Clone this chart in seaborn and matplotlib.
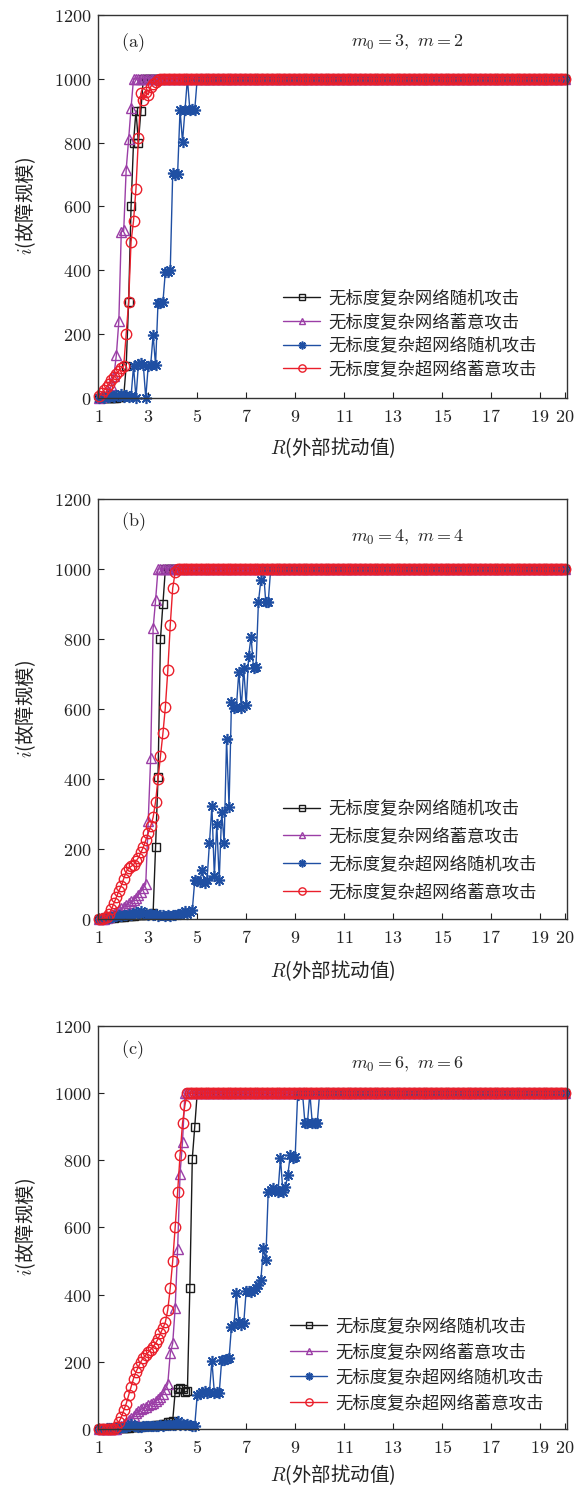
import numpy as np
import matplotlib
matplotlib.use("Agg")
import matplotlib.pyplot as plt
from matplotlib.ticker import FixedLocator, FuncFormatter
import seaborn as sns

# External disturbance values R, sampled every 0.1 from 1 to 20
R = np.round(np.arange(1.0, 20.0001, 0.1), 1)
FULL = 1000  # network size: every node has failed

SERIES_LABELS = [
    "无标度复杂网络随机攻击",
    "无标度复杂网络蓄意攻击",
    "无标度复杂超网络随机攻击",
    "无标度复杂超网络蓄意攻击",
]

# ---- (a) m0 = 3, m = 2 : failure size before the curves saturate at 1000 ----
a_net_random = [0, 0, 0, 0, 0, 0, 0, 0, 2, 3,
                5, 100, 300, 600, 800, 900, 800, 900, 1000]
a_net_target = [0, 2, 5, 10, 20, 40, 70, 135, 240, 520,
                525, 715, 810, 910, 1000]
a_hyper_random = [0, 3, 0, 5, 2, 8, 3, 10, 5, 12,
                  3, 8, 2, 5, 100, 0, 105, 110, 103, 0,
                  100, 103, 197, 103, 297, 297, 300, 396, 396, 400,
                  704, 699, 702, 903, 803, 903, 1000, 903, 905, 903,
                  1000]
a_hyper_target = [5, 15, 25, 35, 45, 55, 65, 75, 85, 95,
                  100, 200, 300, 490, 555, 655, 815, 955, 935, 960,
                  950, 975, 985, 990, 995, 1000]

# ---- (b) m0 = 4, m = 4 ----
b_net_random = [0, 0, 1, 2, 3, 3, 4, 5, 5, 6,
                6, 7, 8, 8, 9, 10, 10, 11, 12, 12,
                13, 15, 17, 205, 405, 800, 900, 1000]
b_net_target = [0, 0, 0, 2, 5, 10, 15, 20, 25, 30,
                35, 40, 45, 50, 55, 60, 68, 78, 88, 100,
                280, 460, 830, 910, 1000]
b_hyper_random = [0, 2, 3, 5, 4, 6, 8, 7, 10, 9,
                  12, 10, 14, 12, 15, 20, 18, 22, 15, 18,
                  12, 15, 10, 13, 8, 10, 12, 9, 11, 8,
                  10, 12, 15, 13, 18, 22, 15, 20, 25, 110,
                  108, 105, 140, 102, 110, 216, 323, 123, 271, 111,
                  306, 218, 513, 321, 621, 602, 605, 707, 602, 716,
                  611, 751, 807, 716, 720, 905, 969, 1000, 905, 905,
                  1000]
b_hyper_target = [0, 0, 2, 5, 15, 28, 45, 62, 80, 95,
                  115, 135, 145, 150, 155, 165, 175, 190, 205, 225,
                  245, 265, 290, 335, 400, 465, 530, 605, 710, 840,
                  945, 990, 1000]

# ---- (c) m0 = 6, m = 6 ----
c_net_random = [0, 0, 0, 0, 0, 1, 1, 2, 2, 3,
                3, 4, 4, 5, 5, 6, 6, 7, 8, 8,
                9, 10, 10, 11, 12, 13, 14, 15, 20, 22,
                25, 110, 120, 122, 118, 110, 112, 420, 805, 900,
                1000]
c_net_target = [0, 0, 0, 0, 0, 0, 0, 0, 5, 10,
                15, 20, 27, 33, 40, 47, 53, 58, 62, 66,
                70, 74, 78, 83, 88, 95, 105, 118, 135, 225,
                255, 360, 535, 760, 855, 1000]
c_hyper_random = [0, 0, 1, 2, 2, 3, 3, 4, 4, 5,
                  5, 6, 8, 15, 10, 8, 6, 7, 8, 9,
                  8, 9, 10, 9, 10, 11, 10, 12, 11, 12,
                  12, 13, 25, 12, 14, 13, 15, 12, 10, 10,
                  100, 105, 110, 112, 108, 110, 203, 108, 110, 108,
                  205, 205, 207, 210, 305, 310, 404, 319, 310, 315,
                  412, 410, 409, 414, 420, 430, 443, 538, 503, 706,
                  710, 716, 712, 706, 806, 706, 720, 756, 815, 806,
                  810, 994, 1000, 1000, 910, 910, 1000, 910, 910, 910,
                  1000]
c_hyper_target = [0, 0, 0, 0, 0, 0, 0, 5, 20, 35,
                  55, 75, 100, 125, 150, 170, 185, 200, 212, 220,
                  228, 236, 245, 255, 268, 285, 300, 318, 355, 420,
                  500, 600, 705, 815, 910, 965, 1000]

PANELS = [
    dict(tag="(a)", params=r"$m_0=3,\ m=2$",
         series=[a_net_random, a_net_target, a_hyper_random, a_hyper_target]),
    dict(tag="(b)", params=r"$m_0=4,\ m=4$",
         series=[b_net_random, b_net_target, b_hyper_random, b_hyper_target]),
    dict(tag="(c)", params=r"$m_0=6,\ m=6$",
         series=[c_net_random, c_net_target, c_hyper_random, c_hyper_target]),
]

X_TICKS = [1, 3, 5, 7, 9, 11, 13, 15, 17, 19, 20]
Y_TICKS = [0, 200, 400, 600, 800, 1000, 1200]


def extend_to_full(head):
    """Curve values up to saturation, followed by the plateau at FULL."""
    return np.array(list(head) + [FULL] * (len(R) - len(head)), dtype=float)


sns.set_theme(style="ticks")
plt.rcParams["font.family"] = ["Noto Sans CJK SC", "DejaVu Sans"]
plt.rcParams["mathtext.fontset"] = "cm"
plt.rcParams["axes.unicode_minus"] = False

STYLES = [
    dict(color="#1a1a1a", marker="s", markersize=6.0, markerfacecolor="none",
         markeredgewidth=1.0),
    dict(color="#9b3ea6", marker="^", markersize=7.0, markerfacecolor="none",
         markeredgewidth=1.0),
    dict(color="#1f4fa3", marker=(8, 2, 0), markersize=8.0,
         markeredgewidth=1.2),
    dict(color="#ea1f2b", marker="o", markersize=7.5, markerfacecolor="none",
         markeredgewidth=1.0),
]

# axes boxes in figure fractions: [left, bottom, width, height]
BOXES = [
    [0.1710, 0.7322, 0.8134, 0.2577],
    [0.1710, 0.3816, 0.8134, 0.2826],
    [0.1710, 0.0384, 0.8134, 0.2712],
]
TAG_Y = [0.927, 0.945, 0.940]
PARAM_Y = [0.927, 0.908, 0.905]
LEGEND_ANCHOR = [(0.394, 0.284), (0.394, 0.284), (0.409, 0.277)]
LEGEND_SPACING = [0.33, 0.56, 0.43]
XLABEL_Y = [-0.097, -0.093, -0.082]

fig = plt.figure(figsize=(5.76, 14.86), dpi=100)
math_fmt = FuncFormatter(lambda v, pos: f"${v:g}$")

for i, panel in enumerate(PANELS):
    ax = fig.add_axes(BOXES[i])
    for vals, label, st in zip(panel["series"], SERIES_LABELS, STYLES):
        y = extend_to_full(vals)
        sns.lineplot(x=R, y=y, ax=ax, label=label, errorbar=None,
                     linewidth=1.0, markeredgecolor=st["color"], clip_on=False,
                     **st)

    ax.set_xlim(0.97, 20.1)
    ax.set_ylim(0, 1200)
    ax.xaxis.set_major_locator(FixedLocator(X_TICKS))
    ax.yaxis.set_major_locator(FixedLocator(Y_TICKS))
    ax.xaxis.set_major_formatter(math_fmt)
    ax.yaxis.set_major_formatter(math_fmt)
    ax.tick_params(axis="both", direction="in", length=4, width=0.8,
                   labelsize=13, colors="#222222")
    ax.tick_params(axis="x", pad=7)
    ax.tick_params(axis="y", pad=5)
    for sp in ax.spines.values():
        sp.set_visible(True)
        sp.set_linewidth(1.0)
        sp.set_color("#333333")

    ax.set_xlabel(r"$R$(外部扰动值)", fontsize=14, color="#222222")
    ax.set_ylabel(r"$i$(故障规模)", fontsize=14, color="#222222")
    ax.xaxis.set_label_coords(0.5, XLABEL_Y[i])
    ax.yaxis.set_label_coords(-0.13, 0.5)

    ax.text(0.047, TAG_Y[i], r"$\mathrm{" + panel["tag"] + "}$",
            transform=ax.transAxes, fontsize=13, va="center", ha="left")
    ax.text(0.66, PARAM_Y[i], panel["params"], transform=ax.transAxes,
            fontsize=13, va="center", ha="center")

    ax.legend(loc="upper left", bbox_to_anchor=LEGEND_ANCHOR[i], frameon=False,
              fontsize=12.5, handlelength=2.15, handletextpad=0.45,
              labelspacing=LEGEND_SPACING[i], borderaxespad=0, borderpad=0,
              markerscale=0.7)

fig.savefig("out.png", dpi=100, facecolor="white")
